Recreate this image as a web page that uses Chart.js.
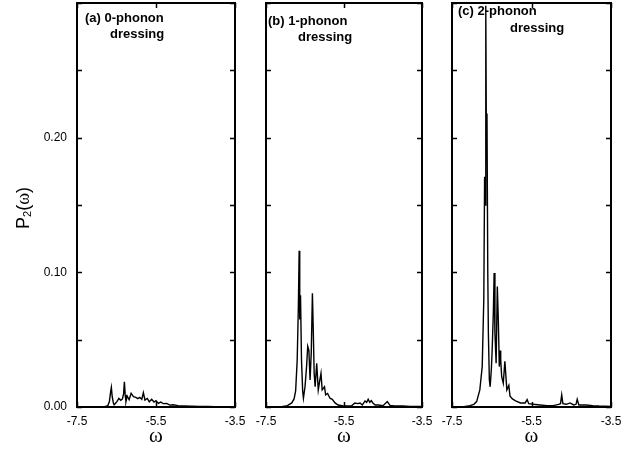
<!DOCTYPE html>
<html>
<head>
<meta charset="utf-8">
<script src="https://cdn.jsdelivr.net/npm/chart.js@4/dist/chart.umd.min.js"></script>
<style>
  html, body { margin: 0; padding: 0; background: #fff; width: 644px; height: 449px; overflow: hidden; }
  canvas { position: absolute; top: 0; }
</style>
</head>
<body>
<canvas id="panelA" width="245" height="449" style="left:0px"></canvas>
<canvas id="panelB" width="190" height="449" style="left:245px"></canvas>
<canvas id="panelC" width="209" height="449" style="left:435px"></canvas>
<script>
// Energy grid (omega) and spectral weight P2(omega) for each dressing level
const omegaA = [-7.5, -7.0, -6.8, -6.72, -6.68, -6.65, -6.63, -6.61, -6.58, -6.56,
                -6.52, -6.49, -6.44, -6.39, -6.35, -6.32, -6.30, -6.28, -6.26, -6.23,
                -6.18, -6.13, -6.07, -6.01, -5.96, -5.91, -5.86, -5.82, -5.78, -5.72,
                -5.67, -5.61, -5.55, -5.50, -5.44, -5.38, -5.32, -5.23, -5.15, -5.07,
                -4.94, -4.8, -4.6, -4.4, -4.2, -4.0, -3.8, -3.5];
const probA  = [0, 0, 0.0003, 0.001, 0.004, 0.011, 0.0145, 0.008, 0.003, 0.0017,
                0.003, 0.004, 0.0064, 0.005, 0.006, 0.010, 0.0188, 0.009, 0.004, 0.0082,
                0.0054, 0.0102, 0.0077, 0.0072, 0.0062, 0.0072, 0.0057, 0.0107, 0.0052, 0.0064,
                0.0039, 0.0057, 0.0037, 0.0047, 0.0027, 0.0037, 0.0025, 0.0027, 0.0014, 0.0017,
                0.001, 0.0008, 0.0006, 0.0005, 0.0004, 0.0003, 0.0002, 0.0001];

const omegaB = [-7.5, -7.1, -6.95, -6.84, -6.78, -6.74, -6.70, -6.67, -6.65, -6.635,
                -6.615, -6.59, -6.56, -6.54, -6.50, -6.46, -6.43, -6.40, -6.37, -6.34,
                -6.31, -6.29, -6.265, -6.24, -6.20, -6.16, -6.12, -6.09, -6.06, -6.00,
                -5.97, -5.92, -5.86, -5.80, -5.73, -5.65, -5.52, -5.40, -5.30, -5.22,
                -5.15, -5.09, -5.03, -4.96, -4.92, -4.88, -4.84, -4.80, -4.76, -4.70,
                -4.62, -4.50, -4.39, -4.32, -4.2, -4.0, -3.8, -3.5];
const probB  = [0, 0.0002, 0.001, 0.003, 0.006, 0.012, 0.035, 0.075, 0.116, 0.065,
                0.083, 0.035, 0.012, 0.0065, 0.015, 0.030, 0.045, 0.042, 0.020, 0.040,
                0.0845, 0.060, 0.025, 0.015, 0.0325, 0.0127, 0.020, 0.025, 0.0127, 0.015,
                0.009, 0.010, 0.0065, 0.0057, 0.003, 0.0015, 0.0007, 0.0007, 0.001, 0.003,
                0.0025, 0.003, 0.0015, 0.0045, 0.0035, 0.0057, 0.0035, 0.0047, 0.003, 0.0015,
                0.0015, 0.001, 0.004, 0.0012, 0.0008, 0.0007, 0.0005, 0.0004];

const omegaC = [-7.5, -7.2, -7.05, -6.95, -6.88, -6.80, -6.74, -6.70, -6.68, -6.665,
                -6.65, -6.635, -6.62, -6.60, -6.585, -6.56, -6.54, -6.51, -6.49, -6.46,
                -6.44, -6.42, -6.39, -6.36, -6.335, -6.31, -6.29, -6.275, -6.25, -6.21,
                -6.17, -6.12, -6.07, -6.04, -5.98, -5.90, -5.78, -5.66, -5.61, -5.57,
                -5.45, -5.29, -5.10, -4.95, -4.82, -4.77, -4.74, -4.71, -4.62, -4.53,
                -4.44, -4.38, -4.35, -4.31, -4.22, -4.13, -3.96, -3.8, -3.5];
const probC  = [0, 0.0002, 0.001, 0.002, 0.004, 0.0127, 0.030, 0.080, 0.171, 0.15,
                0.298, 0.20, 0.218, 0.10, 0.055, 0.02, 0.015, 0.028, 0.042, 0.07,
                0.0995, 0.055, 0.0325, 0.0895, 0.065, 0.030, 0.042, 0.035, 0.0225, 0.0177,
                0.034, 0.0127, 0.016, 0.008, 0.006, 0.0045, 0.003, 0.003, 0.0055, 0.0025,
                0.002, 0.0015, 0.001, 0.001, 0.002, 0.0025, 0.009, 0.0025, 0.002, 0.003,
                0.0015, 0.002, 0.0057, 0.0015, 0.0015, 0.0015, 0.001, 0.0007, 0.0005];

// Axis ranges and labelled ticks
const omegaRange = [-7.5, -3.5];
const omegaStep = 2;
const probRange = [0, 0.30];
const probStep = 0.05;
const labelledProbTicks = [0, 0.10, 0.20];

const panelTitles = [
  ['(a) 0-phonon', 'dressing'],
  ['(b) 1-phonon', 'dressing'],
  ['(c) 2-phonon', 'dressing']
];

const SANS = '"Liberation Sans", Arial, Helvetica, sans-serif';
const SERIF = '"Liberation Serif", "Times New Roman", serif';

// Closed frame with short inward tick marks on all four sides
const framePlugin = {
  id: 'frame',
  afterDraw(chart) {
    const { ctx, chartArea: a, scales } = chart;
    ctx.save();
    ctx.strokeStyle = '#000';
    ctx.lineWidth = 1.5;
    const tl = 5;
    scales.y.ticks.forEach(t => {
      const py = Math.round(scales.y.getPixelForValue(t.value)) + 0.5;
      ctx.beginPath();
      ctx.moveTo(a.left, py); ctx.lineTo(a.left + tl, py);
      ctx.moveTo(a.right, py); ctx.lineTo(a.right - tl, py);
      ctx.stroke();
    });
    scales.x.ticks.forEach(t => {
      const px = Math.round(scales.x.getPixelForValue(t.value)) + 0.5;
      ctx.beginPath();
      ctx.moveTo(px, a.top); ctx.lineTo(px, a.top + tl);
      ctx.moveTo(px, a.bottom); ctx.lineTo(px, a.bottom - tl);
      ctx.stroke();
    });
    ctx.lineWidth = 2;
    ctx.strokeRect(a.left, a.top, a.right - a.left, a.bottom - a.top);
    ctx.restore();
  }
};

// Panel caption in the upper-left corner of the plotting area
const captionPlugin = {
  id: 'caption',
  beforeDatasetsDraw(chart, args, opts) {
    const { ctx, chartArea: a } = chart;
    ctx.save();
    ctx.fillStyle = '#000';
    ctx.font = 'bold 13px ' + SANS;
    ctx.textBaseline = 'alphabetic';
    ctx.textAlign = 'left';
    ctx.fillText(opts.lines[0], a.left + opts.x1, opts.y1);
    ctx.fillText(opts.lines[1], a.left + opts.x2, opts.y2);
    ctx.restore();
  }
};

// Vertical axis title P_2(omega) with a subscript
const yTitlePlugin = {
  id: 'yTitle',
  afterDraw(chart, args, opts) {
    if (!opts.show) return;
    const { ctx } = chart;
    const parts = [
      { t: 'P', font: '18px ' + SANS, dy: 0 },
      { t: '2', font: '11px ' + SANS, dy: 4 },
      { t: '(', font: '18px ' + SANS, dy: 0 },
      { t: 'ω', font: '18px ' + SERIF, dy: 0 },
      { t: ')', font: '18px ' + SANS, dy: 0 }
    ];
    ctx.save();
    let total = 0;
    parts.forEach(p => { ctx.font = p.font; p.w = ctx.measureText(p.t).width; total += p.w; });
    ctx.translate(opts.cx, opts.cy);
    ctx.rotate(-Math.PI / 2);
    ctx.fillStyle = '#000';
    ctx.textBaseline = 'middle';
    ctx.textAlign = 'left';
    let x = -total / 2;
    parts.forEach(p => { ctx.font = p.font; ctx.fillText(p.t, x, p.dy); x += p.w; });
    ctx.restore();
  }
};

function makePanel(id, omega, prob, cfg) {
  const points = omega.map((w, i) => ({ x: w, y: prob[i] }));
  return new Chart(document.getElementById(id), {
    type: 'line',
    data: {
      datasets: [{
        data: points,
        borderColor: '#000',
        borderWidth: 1.4,
        pointRadius: 0,
        fill: false,
        tension: 0
      }]
    },
    options: {
      responsive: false,
      animation: false,
      events: [],
      layout: { padding: { top: 3, right: cfg.padRight, bottom: 0, left: 0 } },
      scales: {
        x: {
          type: 'linear',
          min: omegaRange[0],
          max: omegaRange[1],
          grid: { display: false, drawTicks: false },
          border: { display: false },
          ticks: {
            stepSize: omegaStep,
            autoSkip: false,
            maxRotation: 0,
            padding: 7,
            color: '#000',
            font: { family: SANS, size: 12 },
            callback: v => v.toFixed(1)
          },
          title: {
            display: true,
            text: 'ω',
            color: '#000',
            font: { family: SERIF, size: 21 },
            padding: { top: 0, bottom: 0 }
          },
          afterFit(s) { s.height = 42; s.paddingLeft = 0; s.paddingRight = 0; }
        },
        y: {
          type: 'linear',
          min: probRange[0],
          max: probRange[1],
          grid: { display: false, drawTicks: false },
          border: { display: false },
          ticks: {
            stepSize: probStep,
            padding: 10,
            color: '#000',
            font: { family: SANS, size: 12 },
            callback: v => (cfg.yLabels && labelledProbTicks.some(t => Math.abs(t - v) < 1e-6)) ? v.toFixed(2) : ''
          },
          afterFit(s) { s.width = cfg.axisWidth; s.paddingTop = 0; s.paddingBottom = 0; }
        }
      },
      plugins: {
        legend: { display: false },
        tooltip: { enabled: false },
        caption: cfg.caption,
        yTitle: { show: cfg.yLabels, cx: 24, cy: 208 }
      }
    },
    plugins: [captionPlugin, framePlugin, yTitlePlugin]
  });
}

makePanel('panelA', omegaA, probA, {
  axisWidth: 77, padRight: 10, yLabels: true,
  caption: { lines: panelTitles[0], x1: 8, y1: 21.5, x2: 33, y2: 37.5 }
});
makePanel('panelB', omegaB, probB, {
  axisWidth: 21, padRight: 13, yLabels: false,
  caption: { lines: panelTitles[1], x1: 2, y1: 25, x2: 32, y2: 41 }
});
makePanel('panelC', omegaC, probC, {
  axisWidth: 17, padRight: 33, yLabels: false,
  caption: { lines: panelTitles[2], x1: 6, y1: 15, x2: 58, y2: 31.5 }
});
</script>
</body>
</html>
